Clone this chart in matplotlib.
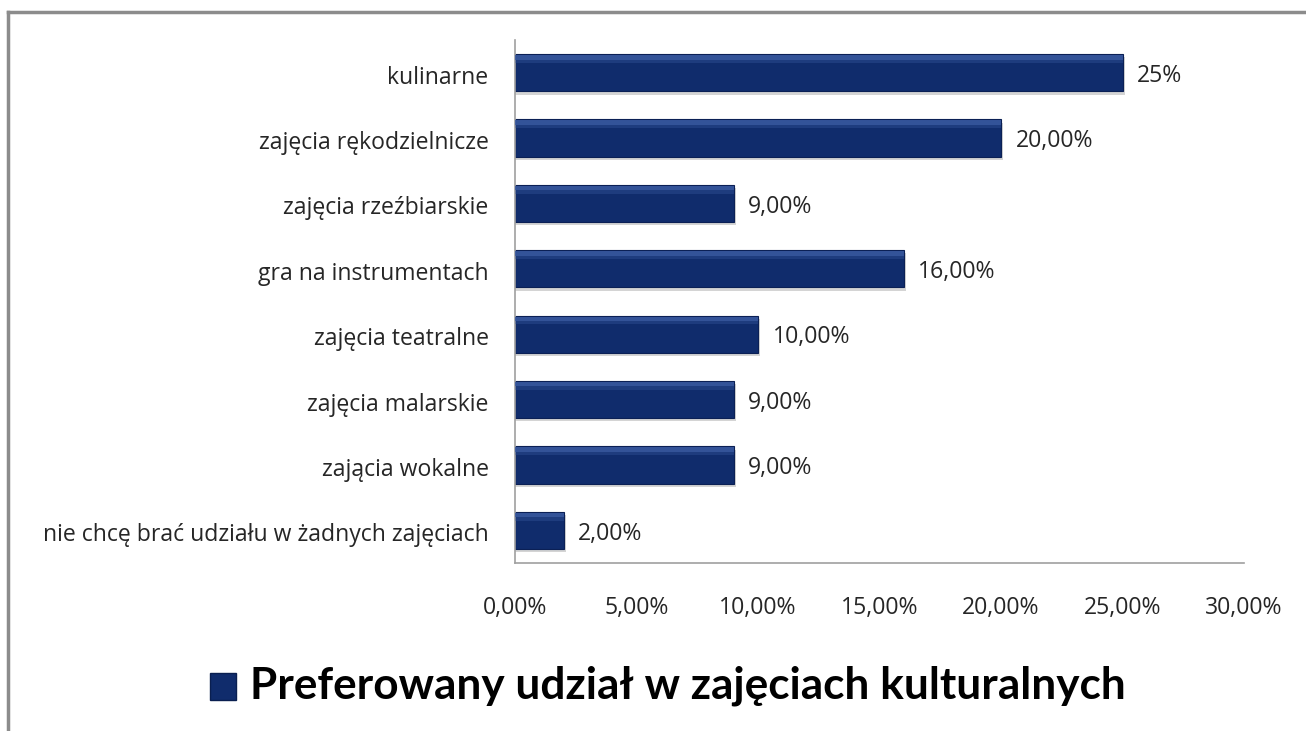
import numpy as np
import matplotlib.pyplot as plt
from matplotlib.lines import Line2D
from matplotlib.patches import Rectangle

plt.rcParams['font.family'] = ['Open Sans', 'DejaVu Sans']

categories = ["kulinarne", "zajęcia rękodzielnicze", "zajęcia rzeźbiarskie",
              "gra na instrumentach", "zajęcia teatralne", "zajęcia malarskie",
              "zającia wokalne", "nie chcę brać udziału w żadnych zajęciach"]
values = [25, 20, 9, 16, 10, 9, 9, 2]
value_labels = ["25%", "20,00%", "9,00%", "16,00%", "10,00%", "9,00%", "9,00%", "2,00%"]
xticks = [0, 5, 10, 15, 20, 25, 30]
xtick_labels = ["0,00%", "5,00%", "10,00%", "15,00%", "20,00%", "25,00%", "30,00%"]
legend_label = "Preferowany udział w zajęciach kulturalnych"

navy = "#102c6c"
light = "#3a5aa0"
txt = "#262626"
fs = 16.6

fig = plt.figure(figsize=(13.06, 7.31), dpi=100)
ax = fig.add_axes([515 / 1306, 1 - 563 / 731, 729 / 1306, 523 / 731])

y = np.arange(len(categories))[::-1]
h = 0.57
# soft shadow, main bar, bevel highlight along the top
ax.barh(y - 0.05, np.array(values) + 0.1, height=h, color="#d4d4d4", zorder=1)
ax.barh(y, values, height=h, color=navy, edgecolor="#0b2055", linewidth=0.8, zorder=2)
ax.barh(y + h / 2 - 0.05, values, height=0.07, color=light, alpha=0.85, zorder=3)
ax.barh(y + h / 2 - 0.11, values, height=0.05, color=light, alpha=0.35, zorder=3)

for yi, v, lab in zip(y, values, value_labels):
    ax.text(v + 0.6, yi - 0.05, lab, va="center", ha="left", fontsize=fs, color=txt)

ax.set_xlim(0, 30)
ax.set_ylim(-0.5, len(categories) - 0.5)
ax.set_yticks(y - 0.03)
ax.set_yticklabels(categories, fontsize=fs, color=txt)
ax.set_xticks(xticks)
ax.set_xticklabels(xtick_labels, fontsize=fs, color=txt)
ax.tick_params(axis="y", length=0, pad=19)
ax.tick_params(axis="x", length=0, pad=24)
for s in ["top", "right"]:
    ax.spines[s].set_visible(False)
for s in ["left", "bottom"]:
    ax.spines[s].set_color("#a0a0a0")
    ax.spines[s].set_linewidth(1.2)

# legend
fig.patches.append(Rectangle((210 / 1306, 1 - 700 / 731), 26 / 1306, 27 / 731,
                             transform=fig.transFigure, facecolor=navy,
                             edgecolor="#0a1f50", linewidth=1))
fig.text(250 / 1306, 1 - 686 / 731, legend_label, fontsize=31.8, fontweight="bold",
         family=["Lato", "DejaVu Sans"], va="center", ha="left", color="black")

# outer frame
fig.add_artist(Line2D([8 / 1306, 1], [1 - 12 / 731] * 2, transform=fig.transFigure,
                      color="#8c8c8c", linewidth=2.5))
fig.add_artist(Line2D([8 / 1306] * 2, [0, 1 - 12 / 731], transform=fig.transFigure,
                      color="#8c8c8c", linewidth=2.5))

fig.savefig("out.png", dpi=100)
